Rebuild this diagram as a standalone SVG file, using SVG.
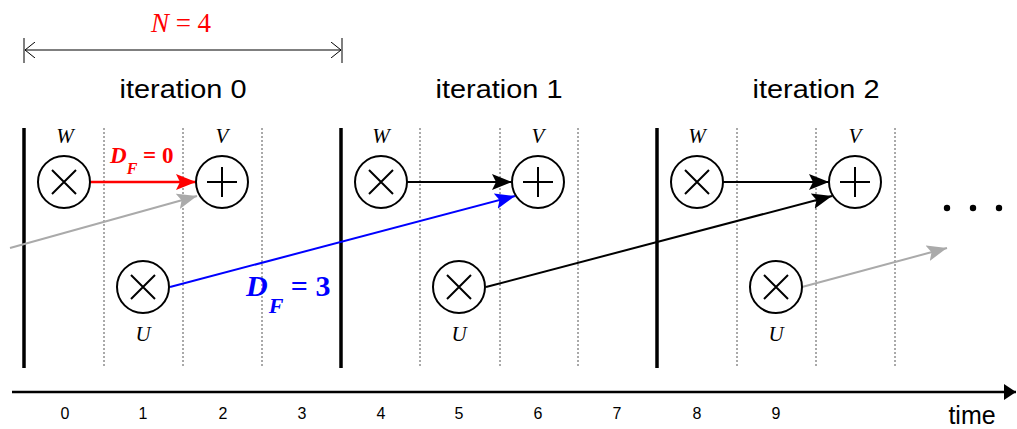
<svg xmlns="http://www.w3.org/2000/svg" width="1017" height="429" viewBox="0 0 1017 429">
<style>
.thick{stroke:#000;stroke-width:3.5}
.dot{stroke:#555;stroke-width:1;stroke-dasharray:2,2}
.node{fill:#fff;stroke:#000;stroke-width:2}
.sym{stroke:#000;stroke-width:2;fill:none}
.lbl{font-family:"Liberation Serif",serif;font-style:italic;font-size:21px;text-anchor:middle}
.iter{font-family:"Liberation Sans",Arial,sans-serif;font-size:26.5px;text-anchor:middle}
.num{font-family:"Liberation Sans",Arial,sans-serif;font-size:16px;text-anchor:middle}
</style>
<defs>
<marker id="ab" markerUnits="userSpaceOnUse" markerWidth="22" markerHeight="18" refX="20" refY="8" orient="auto"><path d="M0,0 L20,8 L0,16 L4,8 z" fill="#000"/></marker>
<marker id="ar" markerUnits="userSpaceOnUse" markerWidth="22" markerHeight="18" refX="20" refY="8" orient="auto"><path d="M0,0 L20,8 L0,16 L4,8 z" fill="#ff0000"/></marker>
<marker id="abl" markerUnits="userSpaceOnUse" markerWidth="22" markerHeight="18" refX="20" refY="8" orient="auto"><path d="M0,0 L20,8 L0,16 L4,8 z" fill="#0000ff"/></marker>
<marker id="ag" markerUnits="userSpaceOnUse" markerWidth="22" markerHeight="18" refX="20" refY="8" orient="auto"><path d="M0,0 L20,8 L0,16 L4,8 z" fill="#aaaaaa"/></marker>
<marker id="ao" markerUnits="userSpaceOnUse" markerWidth="12" markerHeight="16" refX="10" refY="8" orient="auto"><path d="M0,0 L10,8 L0,16" fill="none" stroke="#000" stroke-width="1"/></marker>
<marker id="ao2" markerUnits="userSpaceOnUse" markerWidth="12" markerHeight="16" refX="2" refY="8" orient="auto"><path d="M12,0 L2,8 L12,16" fill="none" stroke="#000" stroke-width="1"/></marker>
<marker id="at" markerUnits="userSpaceOnUse" markerWidth="14" markerHeight="16" refX="12" refY="8" orient="auto"><path d="M0,0 L12,8 L0,16 z" fill="#000"/></marker>
</defs>

<g id="dimension">
<line x1="24" y1="38" x2="24" y2="63" stroke="#555" stroke-width="1.5"/>
<line x1="342" y1="38" x2="342" y2="63" stroke="#555" stroke-width="1.5"/>
<line x1="25" y1="50" x2="341" y2="50" stroke="#000" stroke-width="1.2" marker-start="url(#ao2)" marker-end="url(#ao)"/>
<text x="181" y="32" font-family="Liberation Serif,serif" font-size="27" fill="#ff0000" text-anchor="middle"><tspan font-style="italic">N</tspan> = 4</text>
</g>

<g id="iteration-labels">
<text class="iter" x="183" y="98" textLength="127" lengthAdjust="spacingAndGlyphs">iteration 0</text>
<text class="iter" x="499" y="98" textLength="127" lengthAdjust="spacingAndGlyphs">iteration 1</text>
<text class="iter" x="816" y="98" textLength="127" lengthAdjust="spacingAndGlyphs">iteration 2</text>
</g>

<g id="grid">
<line class="thick" x1="24" y1="128" x2="24" y2="368"/>
<line class="thick" x1="341" y1="128" x2="341" y2="368"/>
<line class="thick" x1="657" y1="128" x2="657" y2="368"/>
<line class="dot" x1="104" y1="128" x2="104" y2="368"/>
<line class="dot" x1="183" y1="128" x2="183" y2="368"/>
<line class="dot" x1="262" y1="128" x2="262" y2="368"/>
<line class="dot" x1="420" y1="128" x2="420" y2="368"/>
<line class="dot" x1="500" y1="128" x2="500" y2="368"/>
<line class="dot" x1="578" y1="128" x2="578" y2="368"/>
<line class="dot" x1="737" y1="128" x2="737" y2="368"/>
<line class="dot" x1="816" y1="128" x2="816" y2="368"/>
<line class="dot" x1="895" y1="128" x2="895" y2="368"/>
</g>

<g id="connectors">
<line x1="10" y1="248" x2="197" y2="196" stroke="#aaaaaa" stroke-width="2" marker-end="url(#ag)"/>
<line x1="91" y1="182" x2="196" y2="182" stroke="#ff0000" stroke-width="2.5" marker-end="url(#ar)"/>
<line x1="170" y1="287" x2="515" y2="196" stroke="#0000ff" stroke-width="2" marker-end="url(#abl)"/>
<line x1="407" y1="182" x2="512" y2="182" stroke="#000" stroke-width="2" marker-end="url(#ab)"/>
<line x1="486" y1="287" x2="832" y2="196" stroke="#000" stroke-width="2" marker-end="url(#ab)"/>
<line x1="723" y1="182" x2="829" y2="182" stroke="#000" stroke-width="2" marker-end="url(#ab)"/>
<line x1="802" y1="287" x2="947" y2="248" stroke="#aaaaaa" stroke-width="2" marker-end="url(#ag)"/>
<text x="110" y="163" font-family="Liberation Serif,serif" font-weight="bold" font-size="23" fill="#ff0000"><tspan font-style="italic">D</tspan><tspan font-style="italic" font-size="16" dy="11" dx="0">F</tspan><tspan dy="-11"> = 0</tspan></text>
<text x="246" y="296" font-family="Liberation Serif,serif" font-weight="bold" font-size="30" fill="#0000ff"><tspan font-style="italic">D</tspan><tspan font-style="italic" font-size="22" dy="17" dx="1">F</tspan><tspan dy="-17"> = 3</tspan></text>
</g>

<g id="W0"><circle class="node" cx="64" cy="182" r="26"/><path class="sym" d="M52,170 L76,194 M76,170 L52,194"/><text class="lbl" x="65" y="143">W</text></g>
<g id="V0"><circle class="node" cx="222" cy="182" r="26"/><path class="sym" d="M207,182 H237 M222,167 V197"/><text class="lbl" x="222" y="143">V</text></g>
<g id="U0"><circle class="node" cx="143" cy="287" r="26"/><path class="sym" d="M131,275 L155,299 M155,275 L131,299"/><text class="lbl" x="143" y="341">U</text></g>

<g id="W1"><circle class="node" cx="381" cy="182" r="26"/><path class="sym" d="M369,170 L393,194 M393,170 L369,194"/><text class="lbl" x="381" y="143">W</text></g>
<g id="V1"><circle class="node" cx="538" cy="182" r="26"/><path class="sym" d="M523,182 H553 M538,167 V197"/><text class="lbl" x="538" y="143">V</text></g>
<g id="U1"><circle class="node" cx="459" cy="287" r="26"/><path class="sym" d="M447,275 L471,299 M471,275 L447,299"/><text class="lbl" x="459" y="341">U</text></g>

<g id="W2"><circle class="node" cx="697" cy="182" r="26"/><path class="sym" d="M685,170 L709,194 M709,170 L685,194"/><text class="lbl" x="697" y="143">W</text></g>
<g id="V2"><circle class="node" cx="855" cy="182" r="26"/><path class="sym" d="M840,182 H870 M855,167 V197"/><text class="lbl" x="855" y="143">V</text></g>
<g id="U2"><circle class="node" cx="776" cy="287" r="26"/><path class="sym" d="M764,275 L788,299 M788,275 L764,299"/><text class="lbl" x="776" y="341">U</text></g>

<g id="ellipsis">
<circle cx="947" cy="208" r="3.2" fill="#000"/>
<circle cx="973" cy="208" r="3.2" fill="#000"/>
<circle cx="999" cy="208" r="3.2" fill="#000"/>
</g>

<g id="time-axis">
<line x1="12" y1="392" x2="1016" y2="392" stroke="#000" stroke-width="2.5" marker-end="url(#at)"/>
<text class="num" x="65" y="419">0</text>
<text class="num" x="143" y="419">1</text>
<text class="num" x="223" y="419">2</text>
<text class="num" x="302" y="419">3</text>
<text class="num" x="381" y="419">4</text>
<text class="num" x="459" y="419">5</text>
<text class="num" x="538" y="419">6</text>
<text class="num" x="617" y="419">7</text>
<text class="num" x="697" y="419">8</text>
<text class="num" x="776" y="419">9</text>
<text x="972" y="424" font-family="Liberation Sans,Arial,sans-serif" font-size="25" text-anchor="middle">time</text>
</g>
</svg>
